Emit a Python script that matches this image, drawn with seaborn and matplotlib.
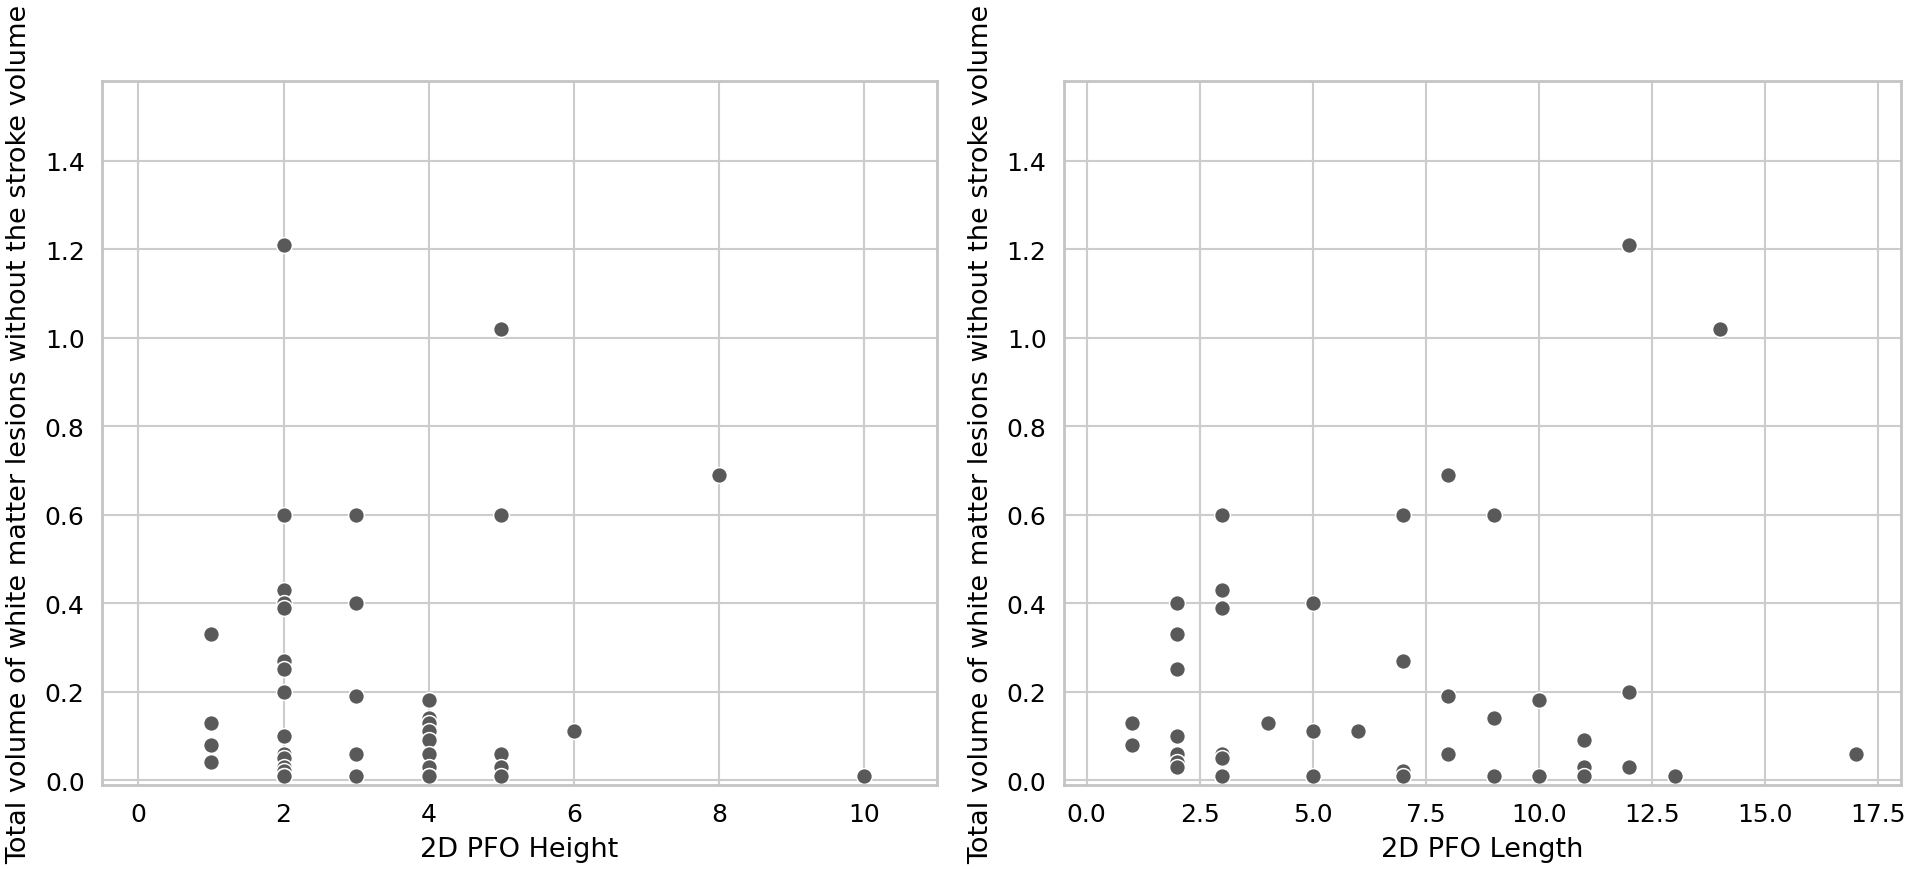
import numpy as np
import pandas as pd
import matplotlib
matplotlib.use("Agg")
import matplotlib.pyplot as plt
import seaborn as sns

# Left panel: 2D PFO Height vs volume
height_x = [1, 1, 1, 1,
            2, 2, 2, 2, 2, 2, 2, 2, 2, 2, 2, 2, 2, 2, 2,
            3, 3, 3, 3, 3,
            4, 4, 4, 4, 4, 4, 4, 4, 4,
            5, 5, 5, 5, 5,
            6, 8, 10]
height_y = [0.33, 0.13, 0.08, 0.04,
            1.21, 0.60, 0.43, 0.40, 0.39, 0.27, 0.25, 0.20, 0.10, 0.06, 0.05, 0.03, 0.02, 0.01, 0.01,
            0.60, 0.40, 0.19, 0.06, 0.01,
            0.18, 0.14, 0.13, 0.11, 0.09, 0.06, 0.03, 0.01, 0.01,
            1.02, 0.60, 0.06, 0.03, 0.01,
            0.11, 0.69, 0.01]

# Right panel: 2D PFO Length vs volume
length_x = [1, 1,
            2, 2, 2, 2, 2, 2, 2,
            3, 3, 3, 3, 3, 3,
            4,
            5, 5, 5,
            6,
            7, 7, 7, 7,
            8, 8, 8,
            9, 9, 9,
            10, 10,
            11, 11, 11,
            12, 12, 12,
            13, 14, 17]
length_y = [0.13, 0.08,
            0.40, 0.33, 0.25, 0.10, 0.06, 0.04, 0.03,
            0.60, 0.43, 0.39, 0.06, 0.05, 0.01,
            0.13,
            0.40, 0.11, 0.01,
            0.11,
            0.60, 0.27, 0.02, 0.01,
            0.69, 0.19, 0.06,
            0.60, 0.14, 0.01,
            0.18, 0.01,
            0.09, 0.03, 0.01,
            1.21, 0.20, 0.03,
            0.01, 1.02, 0.06]

ylabel = "Total volume of white matter lesions without the stroke volume"

sns.set_theme(style="whitegrid", context="talk")
plt.rcParams['font.family'] = ['DejaVu Sans']
plt.rcParams['text.color'] = 'black'
plt.rcParams['axes.labelcolor'] = 'black'
plt.rcParams['xtick.color'] = 'black'
plt.rcParams['ytick.color'] = 'black'

fig = plt.figure(figsize=(19.07, 8.70), dpi=100)
ax1 = fig.add_axes([0.0535, 0.0966, 0.4379, 0.8092])
ax2 = fig.add_axes([0.5579, 0.0966, 0.4389, 0.8092])

df1 = pd.DataFrame({"2D PFO Height": height_x, ylabel: height_y})
df2 = pd.DataFrame({"2D PFO Length": length_x, ylabel: length_y})

dot = "#595959"
sns.scatterplot(data=df1, x="2D PFO Height", y=ylabel, ax=ax1, color=dot,
                s=130, edgecolor="white", linewidth=1.1)
sns.scatterplot(data=df2, x="2D PFO Length", y=ylabel, ax=ax2, color=dot,
                s=130, edgecolor="white", linewidth=1.1)

ax1.set_xlim(-0.5, 11)
ax2.set_xlim(-0.5, 18)
for ax in (ax1, ax2):
    ax.set_ylim(-0.011, 1.58)
    ax.set_yticks(np.arange(0, 1.41, 0.2))
    ax.tick_params(labelsize=18, colors="black")
    ax.set_xlabel(ax.get_xlabel(), fontsize=19.5, color="black", labelpad=7)
    ax.set_ylabel(ax.get_ylabel(), fontsize=19.5, color="black", labelpad=9)
    for sp in ax.spines.values():
        sp.set_color("#c4c4c4")
        sp.set_linewidth(2.0)
    ax.grid(color="#cccccc", linewidth=1.5)
ax1.set_xticks([0, 2, 4, 6, 8, 10])
ax2.set_xticks(np.arange(0, 17.6, 2.5))

fig.savefig("out.png", dpi=100)
